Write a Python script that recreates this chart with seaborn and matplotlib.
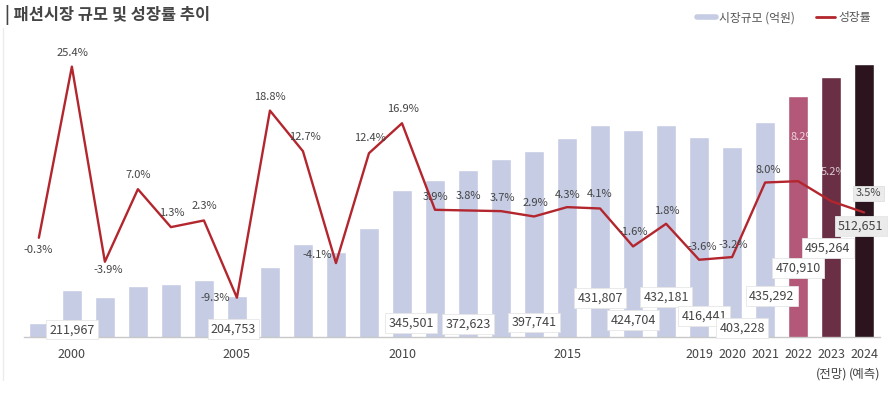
import numpy as np
import pandas as pd
import matplotlib.pyplot as plt
import seaborn as sns
from matplotlib.lines import Line2D

# 시장규모 (억원), 연도별
years = list(range(1999, 2025))
market_size = [169000, 211967, 203700, 218000, 220800, 225900, 204753, 243200,
               274100, 262900, 295500, 345501, 359000, 372623, 386400, 397741,
               414800, 431807, 424704, 432181, 416441, 403228, 435292, 470910,
               495264, 512651]
# 성장률 (%)
growth = [-0.3, 25.4, -3.9, 7.0, 1.3, 2.3, -9.3, 18.8, 12.7, -4.1, 12.4, 16.9,
          3.9, 3.8, 3.7, 2.9, 4.3, 4.1, -1.6, 1.8, -3.6, -3.2, 8.0, 8.2, 5.2, 3.5]

labeled_years = [2000, 2005, 2010, 2012, 2014, 2016, 2017, 2018, 2019, 2020,
                 2021, 2022, 2023, 2024]
tick_years = [2000, 2005, 2010, 2015, 2019, 2020, 2021, 2022, 2023, 2024]
tick_texts = ['2000', '2005', '2010', '2015', '2019', '2020', '2021', '2022',
              '2023\n(전망)', '2024\n(예측)']

# 값 라벨 위치 (x 오프셋: 막대 단위, y: 축 비율)
size_label_dx = [0, -0.1, 0.27, 0, 0, 0, 0, 0, 0.15, 0.3, 0.2, 0, -0.1, -0.1]
size_label_y = [0.024, 0.027, 0.047, 0.044, 0.05, 0.131, 0.057, 0.135, 0.071,
                0.030, 0.138, 0.232, 0.300, 0.374]
# 성장률 라벨 오프셋 (픽셀)
growth_offsets = [(-1, -12), (1, 14), (3, -8), (0, 14), (1, 14), (0, 14),
                  (-22, 0), (0, 14), (2, 14), (-19, 8), (1, 15), (1, 14),
                  (0, 13), (0, 14), (1, 13), (1, 13), (1, 12), (0, 14),
                  (0, 14), (1, 13), (3, 13), (1, 12), (3, 13), (5, 44),
                  (2, 29), (4, 19)]

bar_colors = ['#c5cce4'] * 23 + ['#b35878', '#6a2e45', '#2b141d']
line_color = '#b3262e'
text_color = '#444444'

sns.set_theme(style='white')
plt.rcParams['font.family'] = ['Noto Sans CJK KR', 'DejaVu Sans']

fig = plt.figure(figsize=(8.91, 3.95), dpi=100)
ax = fig.add_axes([24 / 891, 1 - 337 / 395, 856 / 891, 297 / 395])

df = pd.DataFrame({'year': [str(y) for y in years], 'size': market_size})
sns.barplot(data=df, x='year', y='size', hue='year', palette=bar_colors,
            legend=False, width=0.6, ax=ax, saturation=1)
ax.set_ylim(150000, 545000)
ax.set_xlim(-0.45, 25.48)

ax2 = ax.twinx()
pos = np.arange(len(years))
sns.lineplot(x=pos, y=growth, color=line_color, linewidth=1.7, ax=ax2)
ax2.set_ylim(-15.2, 29.4)
ax2.set_xlim(-0.45, 25.48)

for a in (ax, ax2):
    a.set_yticks([])
    a.set_ylabel('')
    a.set_xlabel('')
    for s in ['top', 'left', 'right', 'bottom']:
        a.spines[s].set_visible(False)
ax.spines['bottom'].set_visible(True)
ax.spines['bottom'].set_color('#c8c8c8')
ax.spines['bottom'].set_linewidth(1)

ax.set_xticks([years.index(y) for y in tick_years])
ax.set_xticklabels(tick_texts, fontsize=9, color=text_color, linespacing=1.6)
ax.tick_params(axis='x', length=0, pad=8)
ax2.tick_params(axis='x', length=0, labelbottom=False)

# 시장규모 라벨
for yr, dx, fy in zip(labeled_years, size_label_dx, size_label_y):
    i = years.index(yr)
    fc = '#ebebeb' if yr == 2024 else 'white'
    ax2.text(i + dx, fy, f'{market_size[i]:,}', transform=ax2.get_xaxis_transform(),
             ha='center', va='center', fontsize=9, color=text_color, zorder=5,
             bbox=dict(boxstyle='square,pad=0.25', fc=fc, ec='#e6e6e6', lw=0.6))

# 성장률 라벨
for i, (g, off) in enumerate(zip(growth, growth_offsets)):
    yr = years[i]
    kw = dict(fontsize=8, color=text_color, ha='center', va='center', zorder=6)
    if yr in (2022, 2023):
        kw['color'] = 'white'
        kw['alpha'] = 0.75
    if yr == 2024:
        kw['bbox'] = dict(boxstyle='square,pad=0.25', fc='#ebebeb', ec='#e0e0e0', lw=0.6)
    ax2.annotate(f'{g:.1f}%', xy=(i, g), xytext=off, textcoords='offset pixels', **kw)

# 제목
fig.text(5 / 891, 1 - 15 / 395, '| 패션시장 규모 및 성장률 추이', fontsize=11.8,
         fontweight='bold', color='#454545', ha='left', va='center')

handles = [Line2D([0], [0], color='#c5cce4', lw=4),
           Line2D([0], [0], color=line_color, lw=2)]
fig.legend(handles, ['시장규모 (억원)', '성장률'], loc='center right',
           bbox_to_anchor=(882 / 891, 1 - 18 / 395), ncol=2, frameon=False,
           fontsize=8.5, handlelength=1.6, handletextpad=0.3, columnspacing=1.8,
           labelcolor='#555555')

fig.add_artist(Line2D([2.5 / 891, 2.5 / 891], [1 - 380 / 395, 1 - 28 / 395],
                      color='#ececec', lw=1, transform=fig.transFigure))

fig.savefig('out.png', dpi=100, facecolor='white')
